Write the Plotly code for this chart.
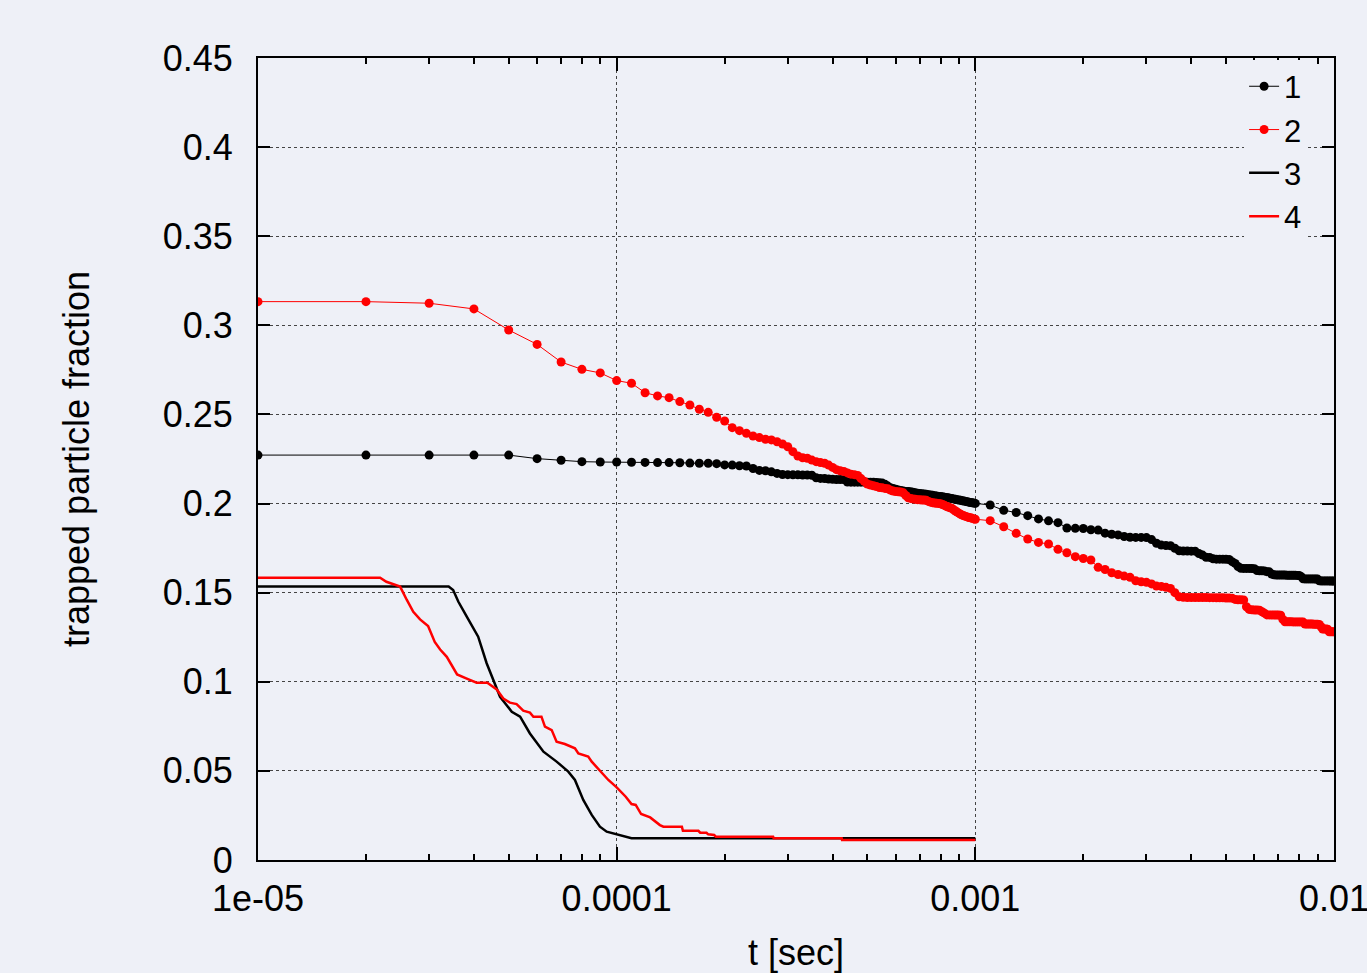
import plotly.graph_objects as go

# ---------------- data ----------------
# sampling times of series 1 and 2, in microseconds
t_dots_us = [
    10, 20, 30, 40, 50, 60, 70, 80, 90, 100,
    110, 120, 130, 140, 150, 160, 170, 180, 190, 200,
    210, 220, 230, 240, 250, 260, 270, 280, 290, 300,
    310, 320, 330, 340, 350, 360, 370, 380, 390, 400,
    410, 420, 430, 440, 450, 460, 470, 480, 490, 500,
    510, 520, 530, 540, 550, 560, 570, 580, 590, 600,
    610, 620, 630, 640, 650, 660, 670, 680, 690, 700,
    710, 720, 730, 740, 750, 760, 770, 780, 790, 800,
    810, 820, 830, 840, 850, 860, 870, 880, 890, 900,
    910, 920, 930, 940, 950, 960, 970, 980, 990, 1000,
    1100, 1200, 1300, 1400, 1500, 1600, 1700, 1800, 1900, 2000,
    2100, 2200, 2300, 2400, 2500, 2600, 2700, 2800, 2900, 3000,
    3100, 3200, 3300, 3400, 3500, 3600, 3700, 3800, 3900, 4000,
    4100, 4200, 4300, 4400, 4500, 4600, 4700, 4800, 4900, 5000,
    5100, 5200, 5300, 5400, 5500, 5600, 5700, 5800, 5900, 6000,
    6100, 6200, 6300, 6400, 6500, 6600, 6700, 6800, 6900, 7000,
    7100, 7200, 7300, 7400, 7500, 7600, 7700, 7800, 7900, 8000,
    8100, 8200, 8300, 8400, 8500, 8600, 8700, 8800, 8900, 9000,
    9100, 9200, 9300, 9400, 9500, 9600, 9700, 9800, 9900, 10000,
]

series1 = [
    .2272, .2272, .2272, .2272, .2272, .2252, .2243, .2235, .2233, .2233,
    .2232, .2231, .2230, .2230, .2229, .2227, .2226, .2226, .2224, .2217,
    .2216, .2212, .2211, .2197, .2186, .2184, .2178, .2169, .2163, .2162,
    .2161, .2161, .2160, .2160, .2159, .2145, .2141, .2140, .2138, .2136,
    .2135, .2135, .2134, .2121, .2120, .2120, .2120, .2120, .2120, .2120,
    .2119, .2119, .2118, .2117, .2115, .2108, .2098, .2088, .2085, .2080,
    .2076, .2073, .2070, .2068, .2067, .2066, .2064, .2060, .2058, .2056,
    .2055, .2054, .2052, .2050, .2048, .2046, .2044, .2042, .2040, .2039,
    .2038, .2036, .2034, .2032, .2030, .2028, .2026, .2024, .2022, .2020,
    .2018, .2016, .2014, .2012, .2010, .2008, .2006, .2004, .2003, .2001,
    .1992, .1962, .1950, .1932, .1914, .1903, .1893, .1863, .1861, .1860,
    .1853, .1851, .1834, .1828, .1824, .1815, .1811, .1810, .1810, .1809,
    .1798, .1777, .1767, .1764, .1763, .1749, .1735, .1734, .1734, .1733,
    .1733, .1720, .1711, .1699, .1698, .1690, .1688, .1688, .1688, .1687,
    .1686, .1674, .1664, .1647, .1637, .1636, .1636, .1636, .1635, .1634,
    .1624, .1623, .1623, .1622, .1618, .1617, .1605, .1600, .1599, .1599,
    .1599, .1599, .1599, .1598, .1598, .1598, .1598, .1598, .1597, .1597,
    .1590, .1578, .1577, .1577, .1577, .1577, .1577, .1577, .1576, .1576,
    .1567, .1566, .1566, .1566, .1566, .1566, .1566, .1565, .1565, .1565,
]

series2 = [
    .3133, .3133, .3124, .3092, .2974, .2893, .2794, .2753, .2733, .2690,
    .2675, .2622, .2604, .2594, .2572, .2553, .2529, .2512, .2484, .2463,
    .2426, .2409, .2394, .2379, .2370, .2361, .2357, .2347, .2334, .2319,
    .2291, .2267, .2257, .2254, .2244, .2235, .2230, .2226, .2216, .2203,
    .2190, .2184, .2180, .2172, .2165, .2162, .2158, .2140, .2125, .2110,
    .2104, .2100, .2095, .2090, .2088, .2085, .2083, .2075, .2070, .2067,
    .2066, .2065, .2060, .2045, .2032, .2029, .2026, .2024, .2022, .2021,
    .2020, .2020, .2018, .2012, .2008, .2005, .2003, .2002, .2001, .1999,
    .1995, .1990, .1985, .1980, .1976, .1973, .1965, .1958, .1952, .1946,
    .1940, .1935, .1931, .1928, .1925, .1922, .1920, .1917, .1914, .1912,
    .1904, .1870, .1833, .1801, .1782, .1773, .1743, .1724, .1702, .1692,
    .1683, .1642, .1630, .1612, .1602, .1593, .1586, .1567, .1561, .1558,
    .1549, .1537, .1535, .1530, .1524, .1500, .1477, .1474, .1473, .1473,
    .1473, .1473, .1473, .1473, .1472, .1472, .1471, .1471, .1471, .1470,
    .1470, .1469, .1462, .1460, .1460, .1459, .1421, .1406, .1404, .1403,
    .1403, .1402, .1393, .1385, .1375, .1375, .1375, .1374, .1374, .1374,
    .1373, .1350, .1337, .1337, .1337, .1337, .1336, .1336, .1336, .1336,
    .1336, .1335, .1324, .1324, .1324, .1324, .1324, .1323, .1323, .1323,
    .1322, .1309, .1296, .1296, .1296, .1295, .1281, .1281, .1281, .1281,
]

# series 3 (black line), times in microseconds
t3_us = [10.0, 34.0, 35.0, 36.2, 38.2, 41.1, 43.4, 45.3, 47.3, 51.0,
         53.8, 57.3, 62.5, 68.0, 73.3, 76.5, 80.7, 85.2, 89.8, 93.8,
         99.0, 102.0, 105.0, 110.0, 1000.0]
series3 = [0.1535, 0.1535, 0.1515, 0.1449, 0.1365, 0.1253, 0.1104, 0.1010, 0.0916, 0.0832,
           0.0804, 0.0710, 0.0608, 0.0552, 0.0496, 0.0449, 0.0337, 0.0253, 0.0187, 0.0159,
           0.0146, 0.0140, 0.0135, 0.0122, 0.0122]

# series 4 (red line), times in microseconds
t4_us = [10.0, 21.9, 22.8, 24.9, 26.0, 27.1, 28.3, 29.8, 31.1, 32.2,
         33.6, 35.9, 38.2, 40.7, 43.6, 46.3, 48.3, 50.4, 52.6, 54.9,
         57.3, 58.6, 61.7, 63.1, 65.9, 68.0, 71.7, 76.5, 78.2, 83.3,
         85.2, 89.8, 94.8, 100.0, 106.0, 110.0, 113.0, 117.0, 124.0, 132.0,
         135.0, 152.0, 153.0, 169.0, 171.0, 178.0, 180.0, 187.0, 189.0, 273.0,
         274.0, 424.0, 425.0, 1000.0]
series4 = [0.1584, 0.1584, 0.1561, 0.1534, 0.1459, 0.1393, 0.1350, 0.1313, 0.1224, 0.1181,
           0.1140, 0.1041, 0.1018, 0.0995, 0.0995, 0.0957, 0.0906, 0.0883, 0.0875, 0.0838,
           0.0827, 0.0804, 0.0804, 0.0748, 0.0729, 0.0664, 0.0651, 0.0627, 0.0598, 0.0580,
           0.0552, 0.0501, 0.0449, 0.0408, 0.0355, 0.0314, 0.0309, 0.0258, 0.0239, 0.0196,
           0.0187, 0.0187, 0.0164, 0.0164, 0.0153, 0.0153, 0.0144, 0.0140, 0.0131, 0.0131,
           0.0122, 0.0122, 0.0112, 0.0112]

series_names = ["1", "2", "3", "4"]
x_tick_vals = [1e-5, 1e-4, 1e-3, 1e-2]
x_tick_text = ["1e-05", "0.0001", "0.001", "0.01"]
x_minor_vals = [m * d for d in (1e-5, 1e-4, 1e-3) for m in (2, 3, 4, 5, 6, 7, 8, 9)]

US = 1e-6
t_dots = [v * US for v in t_dots_us]
t3 = [v * US for v in t3_us]
t4 = [v * US for v in t4_us]

BG = "#eef0f7"
FONT = "Liberation Sans, Arial, sans-serif"

fig = go.Figure()
fig.add_trace(go.Scatter(x=t_dots, y=series1, name=series_names[0], mode="lines+markers",
                         line=dict(color="black", width=1),
                         marker=dict(color="black", size=9, line=dict(width=0))))
fig.add_trace(go.Scatter(x=t_dots, y=series2, name=series_names[1], mode="lines+markers",
                         line=dict(color="#ff0000", width=1),
                         marker=dict(color="#ff0000", size=9, line=dict(width=0))))
fig.add_trace(go.Scatter(x=t3, y=series3, name=series_names[2], mode="lines",
                         line=dict(color="black", width=2.5)))
fig.add_trace(go.Scatter(x=t4, y=series4, name=series_names[3], mode="lines",
                         line=dict(color="#ff0000", width=2.5)))

fig.update_layout(
    width=1367, height=973, autosize=False,
    margin=dict(l=258, r=33, t=58, b=113, pad=0, autoexpand=False),
    paper_bgcolor=BG, plot_bgcolor=BG,
    font=dict(family=FONT, size=36, color="black"),
    showlegend=True,
    legend=dict(x=0.975, xanchor="right", y=0.998, yanchor="top",
                bgcolor=BG, font=dict(size=31, family=FONT, color="black"),
                tracegroupgap=0),
)
fig.update_xaxes(
    type="log", range=[-5.00001, -1.99999], automargin=False,
    tickmode="array", tickvals=x_tick_vals, ticktext=x_tick_text,
    ticklabeloverflow="allow",
    ticks="inside", ticklen=13, tickwidth=1.5, tickcolor="black",
    showline=True, linecolor="black", linewidth=2, mirror="allticks",
    showgrid=True, gridcolor="#444444", gridwidth=1, griddash="dot",
    zeroline=False,
    minor=dict(tickmode="array", tickvals=x_minor_vals, ticks="inside", ticklen=6,
               tickwidth=1.5, tickcolor="black", showgrid=False),
    tickfont=dict(size=36, family=FONT, color="black"),
    ticklabelstandoff=6,
    title=dict(text="t [sec]", font=dict(size=36, family=FONT, color="black"), standoff=30),
)
fig.update_yaxes(
    range=[0, 0.45], tickmode="linear", tick0=0, dtick=0.05, automargin=False,
    ticks="inside", ticklen=12, tickwidth=1.5, tickcolor="black",
    showline=True, linecolor="black", linewidth=2, mirror="allticks",
    showgrid=True, gridcolor="#444444", gridwidth=1, griddash="dot",
    zeroline=False,
    tickfont=dict(size=36, family=FONT, color="black"),
    ticklabelstandoff=16,
    title=dict(text="trapped particle fraction", font=dict(size=36, family=FONT, color="black"),
               standoff=62),
)

fig.write_html("out.html", config={"displayModeBar": False},
               post_script="document.body.style.margin='0';document.body.style.background='" + BG + "';")
